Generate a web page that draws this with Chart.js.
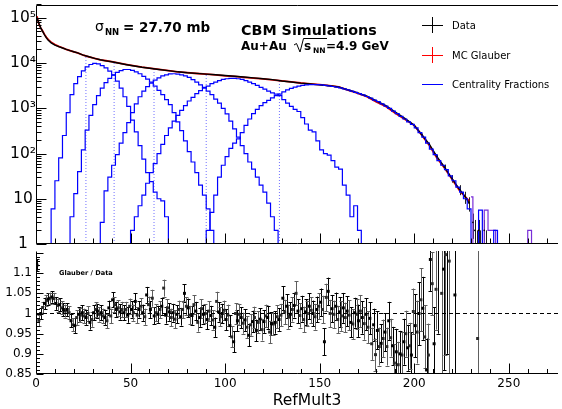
<!DOCTYPE html>
<html>
<head>
<meta charset="utf-8">
<script src="https://cdn.jsdelivr.net/npm/chart.js@4.4.1/dist/chart.umd.min.js"></script>
<style>
  html, body { margin: 0; padding: 0; background: #fff; }
  #wrap { position: relative; width: 562px; height: 409px; }
  #top, #bottom { position: absolute; left: 0; }
  #top { top: 0; }
  #bottom { top: 247px; }
</style>
</head>
<body>
<div id="wrap">
  <canvas id="top" width="562" height="248"></canvas>
  <canvas id="bottom" width="562" height="162"></canvas>
</div>
<script>
// ---- data ----

// Data (black) and MC Glauber (red) multiplicity distributions
const dataX = [0.5, 1.5, 2.5, 3.5, 4.5, 5.5, 6.5, 8, 10, 12, 14, 16, 18, 20, 22, 25, 28, 31, 34, 37, 40, 44, 48, 52, 56, 60, 65, 70, 75, 80, 85, 90, 95, 100, 105, 110, 115, 120, 125, 130, 135, 140, 145, 150, 155, 160, 165, 170, 175, 180, 185, 190, 195, 200, 204, 208, 212, 216, 220, 224, 227, 229];
const dataY = [100000, 76000, 60000, 50000, 42000, 36000, 32000, 28000, 25000, 23000, 21500, 20000, 18800, 17800, 16800, 15000, 13800, 12700, 11800, 11200, 10700, 9900, 9200, 8600, 8100, 7700, 7200, 6800, 6400, 6100, 5900, 5700, 5500, 5300, 5100, 4900, 4700, 4500, 4300, 4000, 3800, 3600, 3450, 3300, 3150, 2950, 2550, 2200, 1850, 1450, 1150, 820, 600, 420, 260, 160, 85, 50, 28, 16, 11, 8];
const glauberY = [108000, 74000, 60000, 51000, 43000, 37000, 33000, 29000, 25600, 23400, 21800, 20100, 18800, 17600, 16700, 14900, 13700, 12700, 11800, 11250, 10750, 9950, 9250, 8650, 8150, 7750, 7250, 6830, 6400, 6120, 5880, 5700, 5450, 5200, 5050, 4830, 4620, 4450, 4250, 4020, 3830, 3620, 3480, 3350, 3180, 2960, 2520, 2160, 1800, 1380, 1100, 780, 570, 420, 255, 150, 80, 48, 27, 15, 11, 9];

// tail of the data with error bars
const tailX = [204, 208, 212, 216, 220, 224, 227, 229, 231, 232, 233, 234, 235, 236, 237, 238];
const tailY = [260, 160, 85, 50, 28, 16, 11, 8, 3, 2, 1, 2, 1, 1, 2, 1];
const tailErr = [16, 13, 9, 7, 5.3, 4, 3.3, 2.8, 1.7, 1.4, 1, 1.4, 1, 1, 1.4, 1];

// Glauber tail spikes
const glauberTailX = [230, 232, 234, 236, 238, 240, 242, 244, 259, 261, 263];
const glauberTailY = [11, 0.5, 0.5, 0.5, 5.6, 2, 2, 0.5, 0.5, 2, 0.5];

// centrality fractions, bins of width 2, first bin centre given
const fracAStart = 9;
const fracA = [6, 25, 80, 250, 800, 2000, 3500, 5000, 6700, 8200, 9300, 9800, 9600, 8800, 7800, 6600, 5500, 4000, 2800, 1800, 1100, 550, 300, 150, 75, 38, 24, 14, 10, 9, 4];
const fracBStart = 19;
const fracB = [4, 13, 40, 120, 330, 700, 1200, 1900, 2800, 3700, 4600, 5400, 6200, 6800, 7200, 7200, 6900, 6400, 5800, 5100, 4400, 3800, 3100, 2500, 2000, 1550, 1200, 800, 500, 320, 190, 110, 65, 38, 20, 12, 6, 2];
const fracCStart = 35;
const fracC = [3, 15, 30, 55, 95, 170, 290, 480, 800, 1250, 1800, 2400, 3000, 3600, 4200, 4700, 5200, 5500, 5750, 5800, 5700, 5500, 5200, 4800, 4300, 3800, 3300, 2900, 2400, 2000, 1600, 1300, 1000, 750, 520, 350, 230, 150, 100, 65, 45, 30, 20, 14, 8, 4, 2];
const fracDStart = 51;
const fracD = [2, 4, 7, 12, 22, 38, 60, 100, 160, 250, 370, 520, 700, 900, 1150, 1450, 1750, 2100, 2450, 2800, 3100, 3500, 3800, 4100, 4350, 4500, 4600, 4600, 4500, 4350, 4100, 3800, 3500, 3200, 2900, 2650, 2400, 2200, 2050, 1900, 1550, 1300, 1100, 950, 850, 620, 450, 330, 300, 190, 120, 100, 92, 70, 50, 45, 20, 12, 4, 7, 2];
const fracEStart = 91;
const fracE = [2, 5, 12, 30, 55, 85, 130, 170, 210, 290, 420, 580, 760, 950, 1150, 1330, 1500, 1700, 1900, 2050, 2300, 2550, 2750, 2950, 3100, 3200, 3280, 3330, 3350, 3330, 3280, 3200, 3120, 3030, 2930, 2820, 2700, 2550, 2400, 2250, 2120, 1970, 1820, 1670, 1520, 1400, 1250, 1120, 1000, 870, 760, 660, 580, 500, 440, 370, 290, 230, 170, 125, 95, 70, 55, 44, 32, 25, 18, 14, 10, 6, 0.5, 0.5, 5.6, 0.5, 0.5, 0.5, 2];

// centrality cuts (dotted lines)
const cutX = [26.4, 41.3, 62.4, 90, 128.7];
const cutTop = [14400, 10300, 7600, 5750, 4050];

// Glauber / Data ratio, one value per unit bin from 0
const ratioValues = [
  1.120, 0.983, 1.000, 1.015, 1.025, 1.032, 1.036, 1.038, 1.041, 1.037,
  1.025, 1.020, 1.022, 1.014, 1.010, 1.006, 1.010, 1.002, 0.982, 0.972,
  0.970, 0.990, 0.998, 0.996, 1.002, 0.994, 0.990, 1.000, 0.978, 0.985,
  1.002, 1.010, 1.006, 0.998, 1.002, 0.994, 0.990, 0.982, 1.014, 0.994,
  1.034, 1.022, 1.010, 1.014, 1.004, 1.010, 1.002, 1.010, 0.996, 1.018,
  1.010, 1.002, 1.030, 0.996, 1.010, 1.018, 1.002, 0.992, 1.046, 1.022,
  1.010, 1.038, 0.994, 1.002, 0.998, 1.010, 1.018, 1.063, 0.996, 1.014,
  1.004, 0.990, 1.002, 0.986, 0.998, 1.010, 0.992, 1.010, 1.050, 1.018,
  1.014, 0.996, 0.995, 1.022, 1.006, 0.978, 0.990, 1.012, 0.998, 1.000,
  0.985, 1.006, 0.995, 0.984, 0.966, 1.030, 1.004, 0.992, 1.000, 1.008,
  0.985, 0.996, 0.970, 0.942, 0.930, 1.000, 0.982, 0.998, 0.990, 0.976,
  0.984, 0.966, 0.946, 0.972, 0.980, 0.990, 0.958, 0.978, 0.986, 0.960,
  0.980, 0.994, 0.990, 0.954, 0.975, 0.974, 0.978, 0.992, 0.985, 0.996,
  1.038, 1.004, 1.018, 0.992, 0.998, 1.010, 1.020, 1.050, 1.006, 0.995,
  1.012, 0.985, 1.004, 1.000, 1.018, 1.008, 1.000, 0.992, 1.010, 1.018,
  1.028, 1.010, 0.930, 1.040, 1.055, 1.000, 1.012, 0.998, 1.018, 0.985,
  1.004, 0.994, 1.014, 0.990, 1.006, 0.996, 0.978, 0.974, 1.002, 0.998,
  0.982, 1.006, 0.990, 0.975, 0.998, 0.966, 0.988, 0.925, 0.972, 0.898,
  0.958, 0.918, 0.926, 0.938, 0.954, 0.918, 0.982, 0.940, 0.920, 0.877,
  0.905, 0.873, 0.900, 0.897, 0.930, 0.950, 0.915, 0.920, 0.897, 1.005,
  0.970, 0.954, 1.000, 1.034, 1.013, 0.942, 0.860, 0.897, 1.134, 1.074
];
// ratio error, one value per block of 10 bins
const ratioErrPerTen = [0.014, 0.016, 0.018, 0.018, 0.019, 0.02, 0.021, 0.022, 0.023, 0.024, 0.026, 0.027, 0.028, 0.03, 0.032, 0.034, 0.037, 0.04, 0.047, 0.057, 0.078];
// sparse high-multiplicity ratio points
const ratioExtraX = [210.5, 211.5, 212.5, 214.5, 215.5, 216.5, 217.5, 218.5, 221.5, 233.5];
const ratioExtraY = [0.925, 1.06, 1.25, 1.05, 1.11, 1.146, 1.3, 1.13, 1.046, 0.938];
const ratioExtraErr = [0.09, 0.1, 0.3, 0.2, 0.25, 0.25, 0.4, 0.3, 0.25, 0.8];

// axes
const xRange = [0, 276];
const xLabelTicks = [0, 50, 100, 150, 200, 250];
const xTickMarks = [0, 10, 20, 30, 40, 50, 60, 70, 80, 90, 100, 110, 120, 130, 140, 150, 160, 170, 180, 190, 200, 210, 220, 230, 240, 250, 260, 270];
const logTicks = [1, 10, 100, 1000, 10000, 100000];
const logTickLabels = ['1', '10', '10²', '10³', '10⁴', '10⁵'];
const ratioTicks = [0.85, 0.9, 0.95, 1, 1.05, 1.1];
const unityX = [0, 276];
const unityY = [1, 1];

// ---- helpers ----
const FONT = '"DejaVu Sans", sans-serif';

function pts(xs, ys) {
  return xs.map((x, i) => ({ x, y: ys[i] }));
}

function histPts(start, values) {
  const out = [{ x: start - 2, y: 0.5 }];
  values.forEach((v, i) => out.push({ x: start + 2 * i, y: v }));
  out.push({ x: start + 2 * values.length, y: 0.5 });
  return out;
}

// vertical error bars drawn through the chart scales
const errorBars = {
  id: 'errorBars',
  beforeDatasetsDraw(chart) {
    const { ctx, chartArea: area, scales } = chart;
    ctx.save();
    ctx.beginPath();
    ctx.rect(area.left, area.top, area.right - area.left, area.bottom - area.top);
    ctx.clip();
    chart.data.datasets.forEach((ds, i) => {
      if (!ds.errorBars) return;
      const meta = chart.getDatasetMeta(i);
      const yScale = scales[meta.yAxisID];
      ctx.strokeStyle = ds.errorColor || ds.borderColor;
      ctx.lineWidth = 1;
      meta.data.forEach((pt, j) => {
        const v = ds.data[j].y;
        const e = ds.errorBars[j];
        const yHi = yScale.getPixelForValue(v + e);
        const yLo = (v - e > 0) ? yScale.getPixelForValue(v - e) : area.bottom + 2;
        const px = Math.round(pt.x) + 0.5;
        ctx.beginPath();
        ctx.moveTo(px, yHi);
        ctx.lineTo(px, yLo);
        if (ds.capWidth) {
          const c = ds.capWidth / 2;
          ctx.moveTo(px - c, Math.round(yHi) + 0.5);
          ctx.lineTo(px + c, Math.round(yHi) + 0.5);
          ctx.moveTo(px - c, Math.round(yLo) + 0.5);
          ctx.lineTo(px + c, Math.round(yLo) + 0.5);
        }
        ctx.stroke();
      });
    });
    ctx.restore();
  },
};

function line(ctx, x1, y1, x2, y2) {
  ctx.beginPath();
  ctx.moveTo(x1, y1);
  ctx.lineTo(x2, y2);
  ctx.stroke();
}

// ROOT style frame with inward ticks
function rootFrame(opts) {
  return {
    id: 'rootFrame',
    afterDraw(chart) {
      const { ctx, chartArea: a, scales } = chart;
      const L = Math.round(a.left) + 0.5;
      const B = Math.round(a.bottom) - 0.5;
      const T = Math.round(a.top) + 0.5;
      ctx.save();
      ctx.strokeStyle = '#000';
      ctx.lineWidth = 1;
      line(ctx, L, T, L, B);
      line(ctx, L, B, a.right, B);
      if (opts.topLine) line(ctx, L, T, a.right, T);
      xTickMarks.forEach((v) => {
        const px = Math.round(scales.x.getPixelForValue(v)) + 0.5;
        const len = v % 50 === 0 ? opts.xMajor : opts.xMinor;
        line(ctx, px, B, px, B - len);
      });
      opts.yTicks(scales.y).forEach(([v, major]) => {
        const py = Math.round(scales.y.getPixelForValue(v)) + 0.5;
        if (py < a.top - 0.5 || py > a.bottom + 0.5) return;
        line(ctx, L, py, L + (major ? opts.yMajor : opts.yMinor), py);
      });
      if (opts.text) opts.text(ctx, chart);
      ctx.restore();
    },
  };
}

function topYTicks() {
  const out = [];
  logTicks.forEach((d) => {
    out.push([d, true]);
    for (let k = 2; k <= 9; k++) out.push([d * k, false]);
  });
  return out;
}

function ratioYTicks() {
  const out = [];
  for (let k = 85; k <= 115; k++) out.push([k / 100, k % 5 === 0]);
  return out;
}

function topText(ctx) {
  ctx.fillStyle = '#000';
  ctx.textBaseline = 'alphabetic';
  ctx.textAlign = 'left';
  // sigma_NN
  ctx.font = '14px ' + FONT;
  ctx.fillText('σ', 95, 31);
  ctx.font = 'bold 8.5px ' + FONT;
  ctx.fillText('NN', 105, 34.5);
  ctx.font = 'bold 13.5px ' + FONT;
  ctx.fillText('= 27.70 mb', 123, 31.5);
  // title
  ctx.font = 'bold 14.3px ' + FONT;
  ctx.fillText('CBM Simulations', 241, 35);
  ctx.font = 'bold 12px ' + FONT;
  ctx.fillText('Au+Au', 241, 50);
  ctx.lineWidth = 1;
  ctx.beginPath();
  ctx.moveTo(294, 45);
  ctx.lineTo(296.5, 43.5);
  ctx.lineTo(300, 52);
  ctx.lineTo(303.5, 38.5);
  ctx.lineTo(327, 38.5);
  ctx.stroke();
  ctx.fillText('s', 304, 50);
  ctx.font = 'bold 7.5px ' + FONT;
  ctx.fillText('NN', 313, 53);
  ctx.font = 'bold 12px ' + FONT;
  ctx.fillText('=4.9 GeV', 326, 50);
  // legend
  ctx.font = '10px ' + FONT;
  ctx.textBaseline = 'middle';
  const entries = [['Data', '#000', 25, true], ['MC Glauber', '#ff0000', 55, true], ['Centrality Fractions', '#0000ff', 84, false]];
  entries.forEach(([label, color, y, cross]) => {
    ctx.strokeStyle = color;
    line(ctx, 422, y + 0.5, 443, y + 0.5);
    if (cross) line(ctx, 432.5, y - 8, 432.5, y + 8);
    ctx.fillStyle = '#000';
    ctx.fillText(label, 452, y + 1);
  });
}

function bottomText(ctx) {
  ctx.fillStyle = '#000';
  ctx.textAlign = 'left';
  ctx.textBaseline = 'alphabetic';
  ctx.font = 'bold 6.6px ' + FONT;
  ctx.fillText('Glauber / Data', 59, 28);
  ctx.font = '15.5px ' + FONT;
  ctx.textAlign = 'center';
  ctx.fillText('RefMult3', 307, 158);
}

// ---- top panel ----
const histStyle = {
  type: 'line', borderColor: '#0000ff', borderWidth: 1.2, stepped: 'middle', pointRadius: 0, fill: false,
};

// first dataset is drawn last (on top)
const topDatasets = [
  {
    label: 'Data tail', data: pts(tailX, tailY), showLine: false, pointRadius: 0.8, pointBackgroundColor: '#000',
    pointBorderWidth: 0, borderColor: '#000', errorBars: tailErr, errorColor: '#222',
  },
  { ...histStyle, label: 'A', data: histPts(fracAStart, fracA) },
  { ...histStyle, label: 'B', data: histPts(fracBStart, fracB) },
  { ...histStyle, label: 'C', data: histPts(fracCStart, fracC) },
  { ...histStyle, label: 'D', data: histPts(fracDStart, fracD) },
  { ...histStyle, label: 'E', data: histPts(fracEStart, fracE) },
  { label: 'Data', data: pts(dataX, dataY), borderColor: '#000', borderWidth: 1.4, pointRadius: 0 },
  { ...histStyle, label: 'Glauber tail', data: pts(glauberTailX, glauberTailY), borderColor: '#7a2fd8' },
  { label: 'MC Glauber', data: pts(dataX, glauberY), borderColor: '#e00000', borderWidth: 1.8, pointRadius: 0 },
];
cutX.forEach((x, i) => {
  topDatasets.push({
    label: 'cut' + i, data: [{ x, y: 1 }, { x, y: cutTop[i] }], borderColor: '#7070ff',
    borderWidth: 1, borderDash: [1, 2], pointRadius: 0,
  });
});

new Chart(document.getElementById('top'), {
  type: 'line',
  data: { datasets: topDatasets },
  options: {
    responsive: false,
    animation: false,
    devicePixelRatio: 1,
    layout: { padding: { left: 0, right: 2, top: 5, bottom: 1 } },
    plugins: { legend: { display: false }, tooltip: { enabled: false } },
    scales: {
      x: { type: 'linear', min: xRange[0], max: xRange[1], display: false },
      y: {
        type: 'logarithmic',
        min: 1,
        max: 192000,
        afterBuildTicks: (scale) => { scale.ticks = logTicks.map((v) => ({ value: v })); },
        afterFit: (scale) => {
          scale.width = 36;
          scale.paddingTop = 0;
          scale.paddingBottom = 0;
        },
        grid: { display: false, drawTicks: false },
        border: { display: false },
        ticks: {
          autoSkip: false,
          padding: 0,
          crossAlign: 'center',
          color: '#000',
          font: { family: FONT, size: 15.5 },
          callback: (v) => logTickLabels[logTicks.indexOf(v)],
        },
      },
    },
  },
  plugins: [errorBars, rootFrame({
    topLine: true, xMajor: 10, xMinor: 5, yMajor: 10, yMinor: 5, yTicks: topYTicks, text: topText,
  })],
});

// ---- ratio panel ----
const ratioEven = [];
const ratioOdd = [];
const errEven = [];
const errOdd = [];
ratioValues.forEach((r, i) => {
  const e = ratioErrPerTen[Math.floor(i / 10)];
  if (i % 2 === 0) { ratioEven.push({ x: i + 0.5, y: r }); errEven.push(e); } else { ratioOdd.push({ x: i + 0.5, y: r }); errOdd.push(e); }
});
ratioExtraX.forEach((x, i) => {
  if (i % 2 === 0) { ratioEven.push({ x, y: ratioExtraY[i] }); errEven.push(ratioExtraErr[i]); } else { ratioOdd.push({ x, y: ratioExtraY[i] }); errOdd.push(ratioExtraErr[i]); }
});

const markerStyle = {
  showLine: false, pointStyle: 'rect', pointRadius: 2.1, pointBorderWidth: 0, capWidth: 4,
};

new Chart(document.getElementById('bottom'), {
  type: 'line',
  data: {
    datasets: [
      { ...markerStyle, label: 'ratio', data: ratioEven, errorBars: errEven, borderColor: '#000', pointBackgroundColor: '#000' },
      { ...markerStyle, label: 'ratio2', data: ratioOdd, errorBars: errOdd, borderColor: '#5e5e5e', pointBackgroundColor: '#2a2a2a' },
      { label: 'unity', data: pts(unityX, unityY), borderColor: '#000', borderWidth: 1, borderDash: [4, 3], pointRadius: 0 },
    ],
  },
  options: {
    responsive: false,
    animation: false,
    devicePixelRatio: 1,
    layout: { padding: { left: 0, right: 2, top: 0, bottom: 0 } },
    plugins: { legend: { display: false }, tooltip: { enabled: false } },
    scales: {
      x: {
        type: 'linear',
        min: xRange[0],
        max: xRange[1],
        afterBuildTicks: (scale) => { scale.ticks = xLabelTicks.map((v) => ({ value: v })); },
        afterFit: (scale) => {
          scale.height = 35;
          scale.paddingLeft = 0;
          scale.paddingRight = 0;
        },
        grid: { display: false, drawTicks: false },
        border: { display: false },
        ticks: {
          autoSkip: false, maxRotation: 0, padding: 3, color: '#000', font: { family: FONT, size: 12 },
        },
      },
      y: {
        type: 'linear',
        min: 0.85,
        max: 1.155,
        afterBuildTicks: (scale) => { scale.ticks = ratioTicks.map((v) => ({ value: v })); },
        afterFit: (scale) => {
          scale.width = 36;
          scale.paddingTop = 0;
          scale.paddingBottom = 0;
        },
        grid: { display: false, drawTicks: false },
        border: { display: false },
        ticks: {
          autoSkip: false, padding: 4, color: '#000', font: { family: FONT, size: 12 },
          callback: (v) => String(v),
        },
      },
    },
  },
  plugins: [errorBars, rootFrame({
    topLine: false, xMajor: 10, xMinor: 4.5, yMajor: 7, yMinor: 3.5, yTicks: ratioYTicks, text: bottomText,
  })],
});
</script>
</body>
</html>
